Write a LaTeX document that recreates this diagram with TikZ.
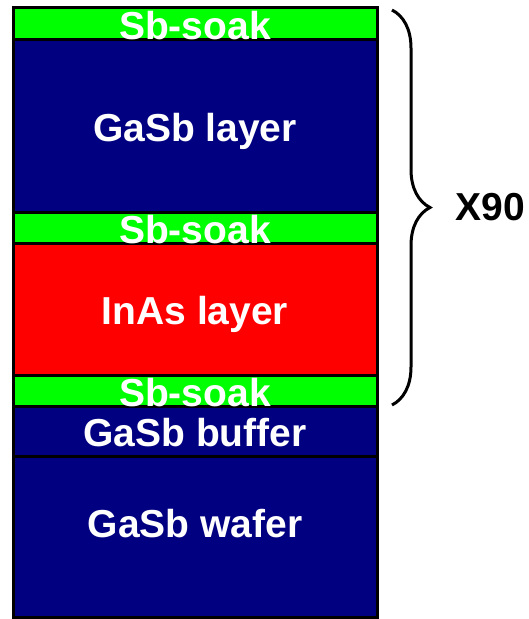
\documentclass[tikz,border=0pt]{standalone}
\usepackage{fontspec}
\setmainfont{Liberation Sans}
\usetikzlibrary{decorations.pathreplacing}
\definecolor{soakgreen}{RGB}{0,255,0}
\definecolor{gasbnavy}{RGB}{0,0,128}
\definecolor{inasred}{RGB}{255,0,0}

\begin{document}
\begin{tikzpicture}[x=1pt,y=-1pt,
  every node/.style={font=\fontsize{39}{41}\selectfont\bfseries},
  layer/.style={draw=black,line width=3pt,minimum width=364pt,inner sep=0pt,
                text=white,text height=32pt,text depth=0pt},
  soak/.style={layer,fill=soakgreen,minimum height=30pt},
  gasb/.style={layer,fill=gasbnavy},
  brc/.style={decorate,decoration={brace,amplitude=38pt},line width=3pt}]
\useasboundingbox (0,0) rectangle (528,619);
% substrate and buffer
\node[gasb,minimum height=161pt,text depth=31pt] (wafer) at (195,536.5) {GaSb wafer};
\node[gasb,minimum height=51pt] (buffer) at (195,430.5) {GaSb buffer};
% repeated period
\node[soak] (soakc) at (195,390) {Sb-soak};
\node[layer,fill=inasred,minimum height=133pt] (inas) at (195,308.5) {InAs layer};
\node[soak] (soakb) at (195,227) {Sb-soak};
\node[gasb,minimum height=174pt] (gasb) at (195,125) {GaSb layer};
\node[soak] (soaka) at (195,23) {Sb-soak};
% brace and repeat count
\coordinate (btop) at (392,10);
\coordinate (bbot) at (392,405);
\draw[brc] (btop) -- (bbot);
\node (reps) at (490,207) {X90};
\end{tikzpicture}
\end{document}
